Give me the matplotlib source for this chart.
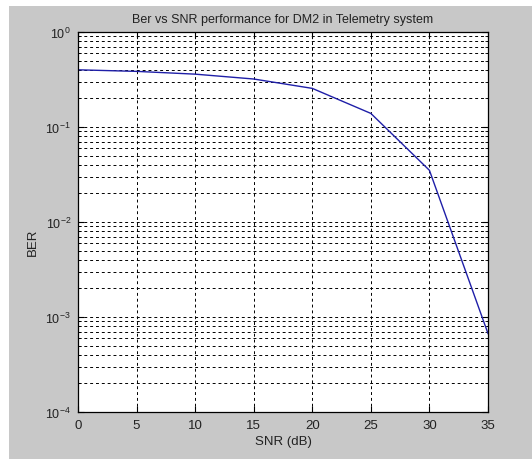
import matplotlib
matplotlib.use('Agg')
import matplotlib.pyplot as plt
from matplotlib.patches import Rectangle
from matplotlib.ticker import LogLocator, NullFormatter

snr = [0, 5, 10, 15, 20, 25, 30, 35]
ber = [0.40, 0.385, 0.36, 0.32, 0.255, 0.139, 0.035, 6.7e-4]

plt.rcParams['font.family'] = 'Liberation Sans'
plt.rcParams['font.size'] = 9.5

fig = plt.figure(figsize=(5.32, 4.6), dpi=100, facecolor='white')
# grey panel behind the axes, leaving a thin white strip top and left
fig.patches.append(Rectangle((9 / 532, 0), 1, 1 - 7 / 460, transform=fig.transFigure,
                             facecolor='#c8c8c8', edgecolor='none', zorder=-10))

ax = fig.add_axes([78 / 532, 1 - 413 / 460, 410 / 532, 380 / 460])
ax.set_facecolor('white')
ax.plot(snr, ber, color='#1f1fa8', lw=1.0)
ax.set_yscale('log')
ax.set_xlim(0, 35)
ax.set_ylim(1e-4, 1)
ax.set_xticks(range(0, 36, 5))
ax.yaxis.set_major_locator(LogLocator(base=10, numticks=10))
ax.yaxis.set_minor_locator(LogLocator(base=10, subs=range(2, 10), numticks=50))
ax.yaxis.set_minor_formatter(NullFormatter())

grid_style = dict(color='black', linestyle=(0, (3, 3)), linewidth=0.7)
ax.grid(True, which='major', **grid_style)
ax.grid(True, which='minor', axis='y', **grid_style)

ax.tick_params(which='both', direction='in', top=True, right=True, colors='black', labelcolor='#222222')
ax.tick_params(which='major', length=4, pad=5)
ax.tick_params(which='minor', length=2)
ax.tick_params(axis='y', which='major', labelsize=9)
for s in ax.spines.values():
    s.set_linewidth(0.9)

ax.set_title('Ber vs SNR performance for DM2 in Telemetry system', fontsize=9, pad=7, color='#222222')
ax.set_xlabel('SNR (dB)', color='#222222', labelpad=3)
ax.set_ylabel('BER', color='#222222')
ax.yaxis.set_label_coords(-0.095, 0.45)

fig.savefig('out.png', dpi=100, facecolor=fig.get_facecolor())
